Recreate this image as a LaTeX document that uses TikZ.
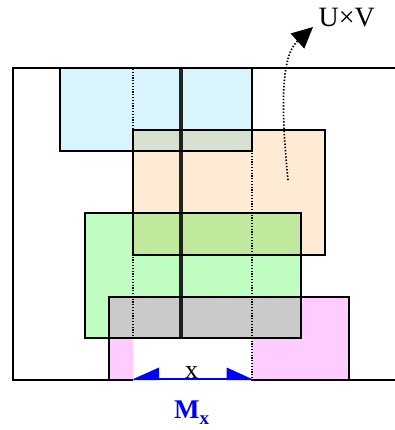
\documentclass[tikz,border=0pt]{standalone}
\usepackage{fontspec}
\setmainfont{Liberation Serif}
\usetikzlibrary{arrows.meta}

\definecolor{skyfill}{HTML}{D8F4FC}
\definecolor{peachfill}{HTML}{FFEBD3}
\definecolor{mintfill}{HTML}{C0FDC0}
\definecolor{pinkfill}{HTML}{FFCCFF}
\definecolor{greyfill}{HTML}{CACACA}
\definecolor{mxblue}{HTML}{0000FF}

\tikzset{
  panel/.style={draw=black, line width=1.6pt},
  frameline/.style={draw=black, line width=2pt},
  guide/.style={draw=black, line width=1.2pt, dash pattern=on 1.2pt off 1.6pt},
  axisline/.style={draw=black, line width=3.4pt, opacity=0.85},
  sweep/.style={draw=black, line width=1.7pt, dash pattern=on 1.4pt off 1.8pt},
}

\begin{document}
\begin{tikzpicture}[x=1pt, y=-1pt]
\useasboundingbox (0,0) rectangle (395,430);

% outer domain, open to the right
\draw[frameline] (395,68) -- (12.5,68) -- (12.5,380) -- (395,380);

% overlapping patches
\fill[skyfill] (60,68) rectangle (252,151);
\draw[panel] (60,68) rectangle (252,151);
\fill[peachfill, blend mode=multiply] (133,130) rectangle (325,255);
\draw[panel] (133,130) rectangle (325,255);
\fill[mintfill, blend mode=multiply] (85,213) rectangle (301,338);
\draw[panel] (85,213) rectangle (301,338);
\fill[pinkfill] (109,297) rectangle (349,380);
\draw[panel] (109,297) rectangle (349,380);
\fill[greyfill] (109,297) rectangle (301,338);
\draw[panel] (109,297) rectangle (301,338);

% cut-out region above the interval x
\fill[white] (133,338.9) rectangle (252,381);

% dotted bounds of the interval
\draw[guide] (133,69) -- (133,338);
\draw[guide] (252,69) -- (252,380);

% central fibre
\draw[axisline] (181,68) -- (181,338);

% interval arrow M_x
\coordinate (mxl) at (133.3,379);
\coordinate (mxr) at (252,379);
\coordinate (mxlb) at (159,379);
\coordinate (mxrb) at (226.7,379);
\draw[mxblue, line width=2.2pt] (mxlb) -- (mxrb);
\fill[mxblue] (mxl) -- (159,367.5) -- (159,380) -- (133.3,380) -- cycle;
\fill[mxblue] (mxr) -- (226.7,367.5) -- (226.7,380) -- (252,380) -- cycle;

\node[font=\fontsize{26}{26}\selectfont, anchor=base, inner sep=0pt] (xlab) at (191.5,378) {x};
\node[font=\fontsize{27}{27}\selectfont\bfseries, text=mxblue, anchor=base west, inner sep=0pt] (mx) at (174,418)
  {M\raisebox{-6.5pt}{\fontsize{19}{19}\selectfont x}};

% product space label and sweep arrow
\node[font=\fontsize{28}{28}\selectfont, anchor=base west, inner sep=0pt] (uv) at (318.5,27) {U×V};
\coordinate (sweepstart) at (288,180);
\coordinate (sweeptip) at (313,27);
\draw[sweep, -{Triangle[length=21pt, width=20pt]}] (sweepstart) .. controls (280,100) and (282,55) .. (sweeptip);
\end{tikzpicture}
\end{document}
